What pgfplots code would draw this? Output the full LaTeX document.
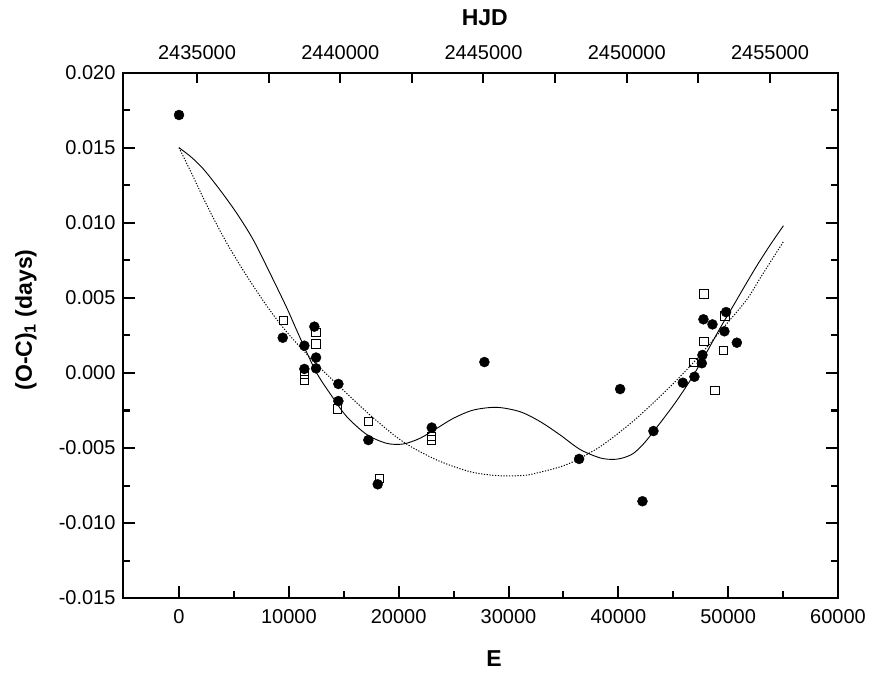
\documentclass[border=0pt]{standalone}
\usepackage{fontspec}
\setmainfont{Liberation Sans}
\usepackage{pgfplots}
\usepackage{pgfplotstable}
\pgfplotsset{compat=1.18}

\pgfplotstableread{
E y
0 0.0172
9444 0.00235
11413 0.00182
11413 0.00027
12322 0.00309
12477 0.00103
12477 0.00031
14510 -0.00073
14510 -0.00187
17240 -0.00447
18093 -0.00742
23010 -0.00364
27805 0.00073
36428 -0.00573
40163 -0.00107
42196 -0.00855
43196 -0.00387
45870 -0.00065
46930 -0.00025
47600 0.00065
47660 0.00120
47750 0.00358
48570 0.00324
49660 0.00278
49810 0.00406
50790 0.00202
}\filled

\pgfplotstableread{
E y
9500 0.00349
11413 -0.00007
11413 -0.00047
12477 0.00271
12477 0.00193
14450 -0.00240
17240 -0.00324
18240 -0.00702
23010 -0.00424
23010 -0.00447
46840 0.00069
47810 0.00527
47810 0.00211
48810 -0.00118
49570 0.00148
49720 0.00380
}\open

\pgfplotstableread{
E y
0 0.01502
1100 0.01440
2216 0.01360
3734 0.01220
5255 0.01065
6766 0.00887
8287 0.00665
9808 0.00435
11019 0.00235
12538 0.00000
14056 -0.00169
15270 -0.00291
17090 -0.00410
18915 -0.00469
20430 -0.00473
21950 -0.00435
23470 -0.00369
24980 -0.00302
26800 -0.00247
28930 -0.00229
31050 -0.00258
32880 -0.00324
34700 -0.00413
36520 -0.00510
38340 -0.00566
39550 -0.00576
40463 -0.00565
41370 -0.00536
42285 -0.00473
43196 -0.00391
45020 -0.00215
46540 -0.00050
47750 0.00100
49270 0.00300
50480 0.00450
51390 0.00565
52610 0.00715
53820 0.00853
55030 0.00982
}\solidfit

\pgfplotstableread{
E y
0 0.01502
1153 0.01330
2520 0.01120
4190 0.00887
6010 0.00665
7987 0.00448
9653 0.00287
11320 0.00150
12840 0.00035
15270 -0.00136
17700 -0.00300
20430 -0.00460
23470 -0.00580
26500 -0.00658
28930 -0.00684
31050 -0.00684
32270 -0.00672
35310 -0.00610
38340 -0.00491
41370 -0.00320
44410 -0.00113
46840 0.00070
49540 0.00300
51700 0.00490
52910 0.00632
55030 0.00876
}\dottedfit

\newcommand{\tickfont}{\fontsize{20}{24}\selectfont}
\newcommand{\labfont}{\fontsize{23}{27}\selectfont\bfseries}

\begin{document}
\begin{tikzpicture}
\pgfplotsset{
  /pgf/number format/assume math mode=true,
  every axis/.append style={
    width=715pt, height=525pt, scale only axis,
    tick align=inside,
    major tick length=12pt, minor tick length=7pt,
    axis line style={line width=2.2pt},
    major tick style={line width=2pt, black},
    minor tick style={line width=2pt, black},
    tick label style={font=\tickfont},
    scaled ticks=false,
  },
}
\begin{axis}[
  at={(0,0)}, anchor=south west,
  xmin=-5100, xmax=60000,
  ymin=-0.015, ymax=0.020,
  xtick={0,10000,20000,30000,40000,50000,60000},
  minor x tick num=1,
  ytick={-0.015,-0.010,-0.005,0,0.005,0.010,0.015,0.020},
  minor y tick num=1,
  xtick pos=left,
  ytick pos=both,
  yticklabel pos=left,
  x tick label style={/pgf/number format/1000 sep={}, yshift=-8pt},
  y tick label style={/pgf/number format/fixed, /pgf/number format/fixed zerofill, /pgf/number format/precision=3, xshift=-4pt},
  xlabel={\labfont E},
  xlabel style={at={(axis description cs:0.519,-0.1162)}, anchor=center},
  ylabel={\labfont (O-C)\textsubscript{1} (days)},
  ylabel style={at={(axis description cs:-0.1357,0.5295)}, anchor=center},
]
\addplot[black, line width=0.9pt, smooth] table[x=E,y=y]{\solidfit};
\addplot[black, line width=1pt, dash pattern=on 1.2pt off 1.6pt, smooth] table[x=E,y=y]{\dottedfit};
\addplot[only marks, mark=*, mark size=5pt, black, fill=black] table[x=E,y=y]{\filled};
\addplot[only marks, mark=square, mark size=4.2pt, black, line width=1pt, mark options={fill=white, solid}] table[x=E,y=y]{\open};
\end{axis}
\begin{axis}[
  at={(0,0)}, anchor=south west,
  xmin=2432416, xmax=2457375,
  ymin=-0.015, ymax=0.020,
  axis x line*=top,
  hide y axis,
  major tick length=10pt,
  xtick={2435000,2437500,2440000,2442500,2445000,2447500,2450000,2452500,2455000},
  xticklabels={2435000,,2440000,,2445000,,2450000,,2455000},
  xticklabel style={yshift=10pt},
  xlabel={\labfont HJD},
  xlabel style={at={(axis description cs:0.506,1.1057)}, anchor=center},
]
\end{axis}
\pgfresetboundingbox
\path[use as bounding box] (-123pt,-77pt) rectangle (750pt,598pt);
\end{tikzpicture}
\end{document}
